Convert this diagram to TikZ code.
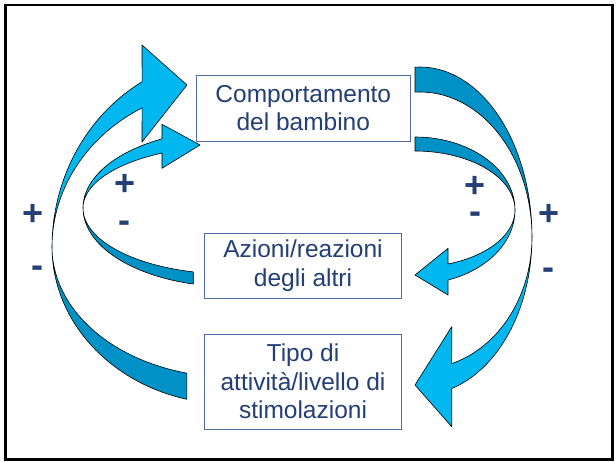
\documentclass[tikz,border=0pt]{standalone}
\usepackage{fontspec}
\setmainfont{Liberation Sans}
\definecolor{lightc}{RGB}{0,183,240}
\definecolor{darkc}{RGB}{0,146,198}
\definecolor{txt}{RGB}{36,62,118}
\definecolor{boxc}{RGB}{78,108,165}
\begin{document}
\begin{tikzpicture}[x=1pt,y=-1pt,
  lightpart/.style={fill=lightc, draw=black, line width=0.6pt, line join=round},
  darkpart/.style={fill=darkc, draw=black, line width=0.6pt, line join=round},
  boxstyle/.style={draw=boxc, line width=0.9pt, fill=white, text=txt,
    font=\fontsize{24.5}{28.5}\selectfont, align=center, inner sep=0pt},
  signlbl/.style={text=txt, font=\fontsize{36}{36}\selectfont\bfseries, anchor=base, inner sep=0pt},
  pl/.style={samples=40, variable=\t}]
\useasboundingbox (0,0) rectangle (616,461);
\fill[white] (0,0) rectangle (616,461);
\draw[line width=2.8pt] (5.8,4.9) rectangle (612.7,459.8);

% inner left arrow (B)
\filldraw[darkpart] plot[pl, domain=180:104.46] ({230+147*cos(\t)},{208+78.5*sin(\t)})
  -- plot[pl, domain=104.46:180] ({230+147*cos(\t)},{208+66*sin(\t)}) -- cycle;
\filldraw[lightpart] plot[pl, domain=180:117.56] ({230+147*cos(\t)},{208-78*sin(\t)})
  -- (162,124.3) -- (200,145) -- (162,168.3)
  -- plot[pl, domain=117.56:180] ({230+147*cos(\t)},{208-62*sin(\t)}) -- cycle;

% outer left arrow (A)
\filldraw[darkpart] plot[pl, domain=180:104] ({230+178*cos(\t)},{247+157*sin(\t)})
  -- plot[pl, domain=104:180] ({230+178*cos(\t)},{247+130*sin(\t)}) -- cycle;
\filldraw[lightpart] plot[pl, domain=180:119.6] ({230+178*cos(\t)},{247-190*sin(\t)})
  -- (142,45) -- (187,85) -- (142,142)
  -- plot[pl, domain=119.6:180] ({230+178*cos(\t)},{247-160*sin(\t)}) -- cycle;

% inner right arrow (B')
\filldraw[darkpart] plot[pl, domain=0:90] ({415+100*cos(\t)},{210-73*sin(\t)})
  -- plot[pl, domain=90:0] ({415+100*cos(\t)},{210-59*sin(\t)}) -- cycle;
\filldraw[lightpart] plot[pl, domain=0:70.73] ({415+100*cos(\t)},{210+74.2*sin(\t)})
  -- (448,295) -- (415,275) -- (448,248.3)
  -- plot[pl, domain=70.73:0] ({415+100*cos(\t)},{210+57.2*sin(\t)}) -- cycle;

% outer right arrow (A')
\filldraw[darkpart] plot[pl, domain=0:92.56] ({420+112*cos(\t)},{237-170*sin(\t)})
  -- plot[pl, domain=92.56:0] ({420+112*cos(\t)},{237-145*sin(\t)}) -- cycle;
\filldraw[lightpart] plot[pl, domain=0:73.56] ({420+112*cos(\t)},{237+158*sin(\t)})
  -- (451.7,426.7) -- (415,385) -- (451.7,326.7)
  -- plot[pl, domain=73.56:0] ({420+112*cos(\t)},{237+132*sin(\t)}) -- cycle;

% boxes
\node[boxstyle, minimum width=214.7pt, minimum height=66pt] (comp) at (303.3,108) {Comportamento\\del bambino};
\node[boxstyle, minimum width=197.4pt, minimum height=65pt] (azioni) at (303,265.8) {Azioni/reazioni\\degli altri};
\node[boxstyle, minimum width=197.4pt, minimum height=95pt] (tipo) at (303,381.5) {Tipo di\\attività/livello di\\stimolazioni};

% signs
\node[signlbl] (p1) at (33,225.1) {+};
\node[signlbl] (m1) at (37.5,277.4) {-};
\node[signlbl] (p2) at (125.5,195.3) {+};
\node[signlbl] (m2) at (124.7,232.9) {-};
\node[signlbl] (p3) at (474.7,197.6) {+};
\node[signlbl] (m3) at (475,223.4) {-};
\node[signlbl] (p4) at (548.8,225.9) {+};
\node[signlbl] (m4) at (548.8,279.1) {-};
\end{tikzpicture}
\end{document}
